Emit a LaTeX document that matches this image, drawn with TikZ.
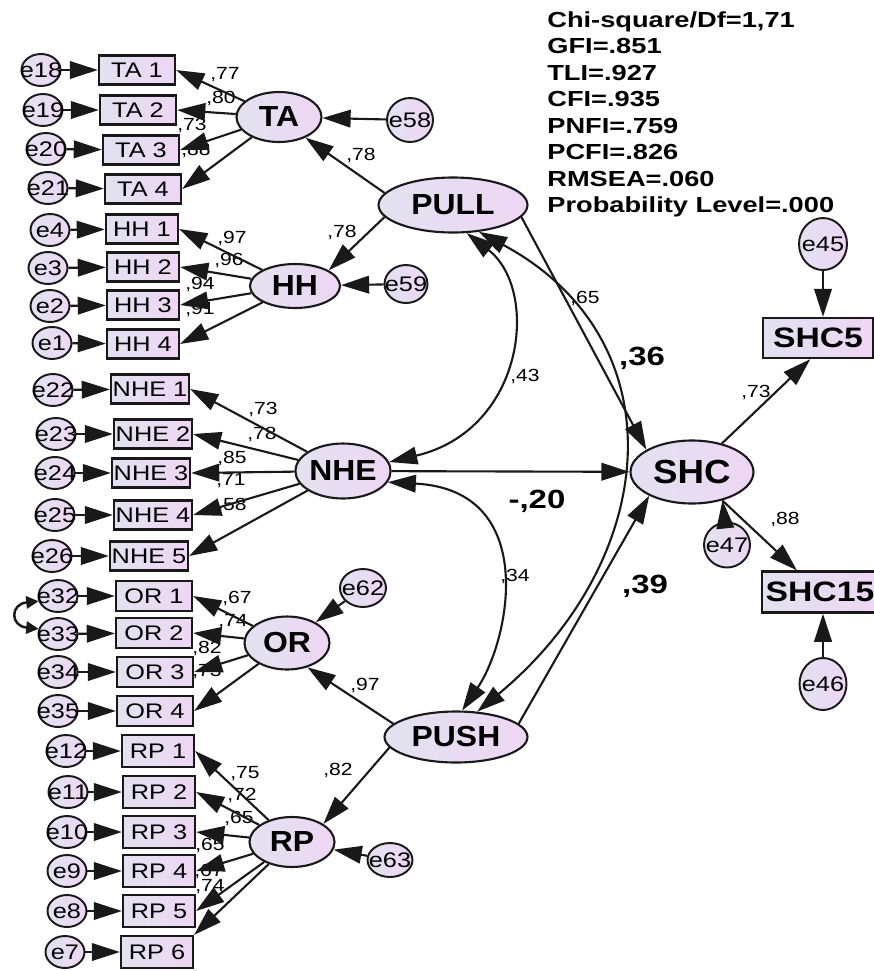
\documentclass[tikz,border=0pt]{standalone}
\usepackage{fontspec}
\newfontfamily\semfont[FakeStretch=1.2]{Liberation Sans}
\newfontfamily\latfont[FakeStretch=1.1]{Liberation Sans}
\newfontfamily\statfont[FakeStretch=1.25]{Liberation Sans}
\usetikzlibrary{arrows.meta,shapes.geometric}
\definecolor{semline}{RGB}{25,25,25}
\definecolor{semleft}{RGB}{226,226,240}
\definecolor{semright}{RGB}{238,214,244}
\newcommand{\ename}[1]{\makebox[0pt]{#1}}
\tikzset{
  obs/.style  ={rectangle, draw=semline, line width=1.3pt, left color=semleft, right color=semright, minimum width=1.52cm, minimum height=0.58cm, inner sep=0pt, font=\semfont\fontsize{12}{14}\selectfont},
  err/.style  ={ellipse, draw=semline, line width=1.1pt, left color=semleft, right color=semright, minimum width=0.78cm, minimum height=0.64cm, inner sep=0pt, font=\semfont\fontsize{12}{14}\selectfont},
  lat/.style  ={ellipse, draw=semline, line width=1.2pt, left color=semleft, right color=semright, minimum width=1.7cm, minimum height=1.0cm, inner sep=0pt, font=\latfont\bfseries\fontsize{16.5}{18}\selectfont},
  ind/.style  ={obs, minimum width=2.2cm, minimum height=0.8cm, font=\semfont\bfseries\fontsize{16}{18}\selectfont},
  pth/.style  ={draw=semline, line width=1.2pt, -{Triangle[length=16pt,width=10pt]}},
  cov/.style  ={draw=semline, line width=1.2pt, {Triangle[length=16pt,width=10pt]}-{Triangle[length=16pt,width=10pt]}},
  coef/.style ={font=\semfont\fontsize{10}{12}\selectfont, inner sep=0pt},
  coefb/.style={font=\statfont\bfseries\fontsize{15}{17}\selectfont, inner sep=0pt},
}
\begin{document}
\begin{tikzpicture}[x=0.02cm,y=-0.02cm]
  \fill[white] (0,0) rectangle (874,971);
  \useasboundingbox (0,0) rectangle (874,971);
  % fit indices
  \node[anchor=north west, align=left, inner sep=0pt, font=\statfont\bfseries\fontsize{12.4}{15.1}\selectfont] (fit) at (547,11)
    {Chi-square/Df=1,71\\GFI=.851\\TLI=.927\\CFI=.935\\PNFI=.759\\PCFI=.826\\RMSEA=.060\\Probability Level=.000};
  % latent variables
  \node[lat] (TA) at (279,117) {TA};
  \node[lat, minimum width=1.8cm, minimum height=0.88cm] (HH) at (295,286) {HH};
  \node[lat, minimum width=1.66cm, minimum height=1.1cm] (NHE) at (343,471) {NHE};
  \node[lat, minimum height=1.06cm] (OR) at (287,643) {OR};
  \node[lat] (RP) at (292,842) {RP};
  \node[lat, minimum width=2.98cm, minimum height=1.1cm] (PULL) at (453,205) {PULL};
  \node[lat, minimum width=2.86cm, minimum height=1.02cm] (PUSH) at (456,737) {PUSH};
  \node[lat, minimum width=2.46cm, minimum height=1.26cm, font=\latfont\bfseries\fontsize{19}{21}\selectfont] (SHC) at (692,472) {SHC};
  % observed items
  \node[obs] (TA1) at (137,70) {TA 1};
  \node[obs] (TA2) at (138,110) {TA 2};
  \node[obs] (TA3) at (141,150) {TA 3};
  \node[obs] (TA4) at (143,189) {TA 4};
  \node[obs, minimum width=1.44cm] (HH1) at (142,229) {HH 1};
  \node[obs, minimum width=1.44cm] (HH2) at (143,267) {HH 2};
  \node[obs, minimum width=1.44cm] (HH3) at (143,305) {HH 3};
  \node[obs, minimum width=1.44cm] (HH4) at (143,344) {HH 4};
  \node[obs, minimum width=1.56cm] (NHE1) at (150,389) {NHE 1};
  \node[obs, minimum width=1.56cm] (NHE2) at (153,434) {NHE 2};
  \node[obs, minimum width=1.56cm] (NHE3) at (151,473) {NHE 3};
  \node[obs, minimum width=1.56cm] (NHE4) at (153,515) {NHE 4};
  \node[obs, minimum width=1.56cm] (NHE5) at (149,556) {NHE 5};
  \node[obs, minimum height=0.6cm] (OR1) at (154,596) {OR 1};
  \node[obs, minimum height=0.6cm] (OR2) at (154,633) {OR 2};
  \node[obs, minimum height=0.6cm] (OR3) at (155,672) {OR 3};
  \node[obs, minimum height=0.6cm] (OR4) at (155,711) {OR 4};
  \node[obs, minimum width=1.44cm, minimum height=0.64cm] (RP1) at (158,751) {RP 1};
  \node[obs, minimum width=1.44cm, minimum height=0.64cm] (RP2) at (159,792) {RP 2};
  \node[obs, minimum width=1.44cm, minimum height=0.64cm] (RP3) at (159,832) {RP 3};
  \node[obs, minimum width=1.44cm, minimum height=0.64cm] (RP4) at (159,871) {RP 4};
  \node[obs, minimum width=1.44cm, minimum height=0.64cm] (RP5) at (159,911) {RP 5};
  \node[obs, minimum width=1.44cm, minimum height=0.64cm] (RP6) at (157,952) {RP 6};
  \node[ind] (SHC5) at (818,338) {SHC5};
  \node[ind, minimum width=2.32cm, minimum height=0.82cm] (SHC15) at (820,592) {SHC15};
  % error terms
  \node[err] (e18) at (41,70) {\ename{e18}};
  \node[err] (e19) at (43,110) {\ename{e19}};
  \node[err] (e20) at (46,149) {\ename{e20}};
  \node[err] (e21) at (48,188) {\ename{e21}};
  \node[err] (e4) at (50,230) {\ename{e4}};
  \node[err] (e3) at (48,268) {\ename{e3}};
  \node[err] (e2) at (50,306) {\ename{e2}};
  \node[err] (e1) at (52,343) {\ename{e1}};
  \node[err] (e22) at (53,390) {\ename{e22}};
  \node[err] (e23) at (56,434) {\ename{e23}};
  \node[err] (e24) at (55,473) {\ename{e24}};
  \node[err] (e25) at (55,515) {\ename{e25}};
  \node[err] (e26) at (52,556) {\ename{e26}};
  \node[err] (e32) at (58,596) {\ename{e32}};
  \node[err] (e33) at (58,634) {\ename{e33}};
  \node[err] (e34) at (58,672) {\ename{e34}};
  \node[err] (e35) at (58,711) {\ename{e35}};
  \node[err] (e12) at (66,751) {\ename{e12}};
  \node[err] (e11) at (68,792) {\ename{e11}};
  \node[err] (e10) at (67,832) {\ename{e10}};
  \node[err] (e9) at (67,871) {\ename{e9}};
  \node[err] (e8) at (67,911) {\ename{e8}};
  \node[err] (e7) at (65,952) {\ename{e7}};
  \node[err, minimum width=0.92cm, minimum height=0.88cm] (e58) at (410,120) {\ename{e58}};
  \node[err, minimum width=0.86cm, minimum height=0.76cm] (e59) at (406,284) {\ename{e59}};
  \node[err, minimum width=0.92cm, minimum height=0.76cm] (e62) at (363,588) {\ename{e62}};
  \node[err, minimum width=0.9cm, minimum height=0.68cm] (e63) at (390,860) {\ename{e63}};
  \node[err, minimum width=0.92cm, minimum height=0.9cm] (e47) at (727,545) {\ename{e47}};
  \node[err, minimum width=0.96cm, minimum height=1.04cm] (e45) at (823,244) {\ename{e45}};
  \node[err, minimum width=0.94cm, minimum height=1.04cm] (e46) at (823,684) {\ename{e46}};
  % estimates
  \node[coef] (cTA1) at (225,75) {,77};
  \node[coef] (cTA2) at (221,98) {,80};
  \node[coef] (cTA3) at (192,125) {,73};
  \node[coef] (cTA4) at (196,150) {,88};
  \node[coef] (cPullTA) at (361,155) {,78};
  \node[coef] (cPullHH) at (342,232) {,78};
  \node[coef] (cHH1) at (232,238) {,97};
  \node[coef] (cHH2) at (229,260) {,96};
  \node[coef] (cHH3) at (200,284) {,94};
  \node[coef] (cHH4) at (200,309) {,91};
  \node[coef] (cNHE1) at (263,409) {,73};
  \node[coef] (cNHE2) at (262,434) {,78};
  \node[coef] (cNHE3) at (232,458) {,85};
  \node[coef] (cNHE4) at (231,481) {,71};
  \node[coef] (cNHE5) at (232,505) {,58};
  \node[coef] (cOR1) at (237,598) {,67};
  \node[coef] (cOR2) at (233,622) {,74};
  \node[coef] (cOR3) at (207,648) {,82};
  \node[coef] (cOR4) at (207,671) {,73};
  \node[coef] (cPushOR) at (365,685) {,97};
  \node[coef] (cPushRP) at (338,770) {,82};
  \node[coef] (cRP1) at (245,774) {,75};
  \node[coef] (cRP2) at (242,795) {,72};
  \node[coef] (cRP3) at (239,818) {,65};
  \node[coef] (cRP4) at (210,845) {,65};
  \node[coef] (cRP5) at (209,871) {,67};
  \node[coef] (cRP6) at (210,887) {,74};
  \node[coef] (cPullNhe) at (525,376) {,43};
  \node[coef] (cNhePush) at (515,576) {,34};
  \node[coef] (cPullPush) at (585,298) {,65};
  \node[coef] (cShc5) at (756,392) {,73};
  \node[coef] (cShc15) at (785,519) {,88};
  \node[coefb] (cPullShc) at (642,358) {,36};
  \node[coefb] (cNheShc) at (537,501) {-,20};
  \node[coefb] (cPushShc) at (645,586) {,39};
  % errors to items
  \draw[pth] (e18) -- (TA1);
  \draw[pth] (e19) -- (TA2);
  \draw[pth] (e20) -- (TA3);
  \draw[pth] (e21) -- (TA4);
  \draw[pth] (e4) -- (HH1);
  \draw[pth] (e3) -- (HH2);
  \draw[pth] (e2) -- (HH3);
  \draw[pth] (e1) -- (HH4);
  \draw[pth] (e22) -- (NHE1);
  \draw[pth] (e23) -- (NHE2);
  \draw[pth] (e24) -- (NHE3);
  \draw[pth] (e25) -- (NHE4);
  \draw[pth] (e26) -- (NHE5);
  \draw[pth] (e32) -- (OR1);
  \draw[pth] (e33) -- (OR2);
  \draw[pth] (e34) -- (OR3);
  \draw[pth] (e35) -- (OR4);
  \draw[pth] (e12) -- (RP1);
  \draw[pth] (e11) -- (RP2);
  \draw[pth] (e10) -- (RP3);
  \draw[pth] (e9) -- (RP4);
  \draw[pth] (e8) -- (RP5);
  \draw[pth] (e7) -- (RP6);
  \draw[draw=semline, line width=1.4pt, {Triangle[length=7pt,width=7pt]}-{Triangle[length=7pt,width=7pt]}] (e32.195) .. controls (10,604) and (10,626) .. (e33.165);
  % loadings
  \draw[pth] (TA) -- (TA1.east);
  \draw[pth] (TA) -- (TA2.east);
  \draw[pth] (TA) -- (TA3.east);
  \draw[pth] (TA) -- (TA4.east);
  \draw[pth] (HH) -- (HH1.east);
  \draw[pth] (HH) -- (HH2.east);
  \draw[pth] (HH) -- (HH3.east);
  \draw[pth] (HH) -- (HH4.east);
  \draw[pth] (NHE) -- (NHE1.east);
  \draw[pth] (NHE) -- (NHE2.east);
  \draw[pth] (NHE) -- (NHE3.east);
  \draw[pth] (NHE) -- (NHE4.east);
  \draw[pth] (NHE) -- (NHE5.east);
  \draw[pth] (OR) -- (OR1.east);
  \draw[pth] (OR) -- (OR2.east);
  \draw[pth] (OR) -- (OR3.east);
  \draw[pth] (OR) -- (OR4.east);
  \draw[pth] (RP) -- (RP1.east);
  \draw[pth] (RP) -- (RP2.east);
  \draw[pth] (RP) -- (RP3.east);
  \draw[pth] (RP) -- (RP4.east);
  \draw[pth] (RP) -- (RP5.east);
  \draw[pth] (RP) -- (RP6.north east);
  % second order and residuals
  \draw[pth] (PULL.170) -- (TA.-38);
  \draw[pth] (PULL.190) -- (HH.25);
  \draw[pth] (PUSH.168) -- (OR.-50);
  \draw[pth] (PUSH.189) -- (RP.30);
  \draw[pth] (e58) -- (TA);
  \draw[pth] (e59) -- (HH);
  \draw[pth] (e62) -- (OR);
  \draw[pth] (e63) -- (RP);
  % structural paths
  \draw[pth] (PULL.-10) -- (SHC.154);
  \draw[pth] (NHE) -- (SHC);
  \draw[pth] (PUSH.12) -- (SHC.209);
  \draw[pth] (SHC) -- (SHC5.250);
  \draw[pth] (SHC) -- (SHC15);
  \draw[pth] (e45) -- (e45 |- SHC5.north);
  \draw[pth] (e46) -- (e46 |- SHC15.south);
  \draw[pth] (e47) -- (SHC.-43);
  % covariances
  \draw[cov] (PULL.-64) .. controls (540,290) and (525,430) .. (NHE.11);
  \draw[cov] (NHE.-14) .. controls (540,490) and (510,640) .. (PUSH.77);
  \draw[cov] (PULL.-46) .. controls (680,340) and (660,560) .. (PUSH.50);
\end{tikzpicture}
\end{document}
